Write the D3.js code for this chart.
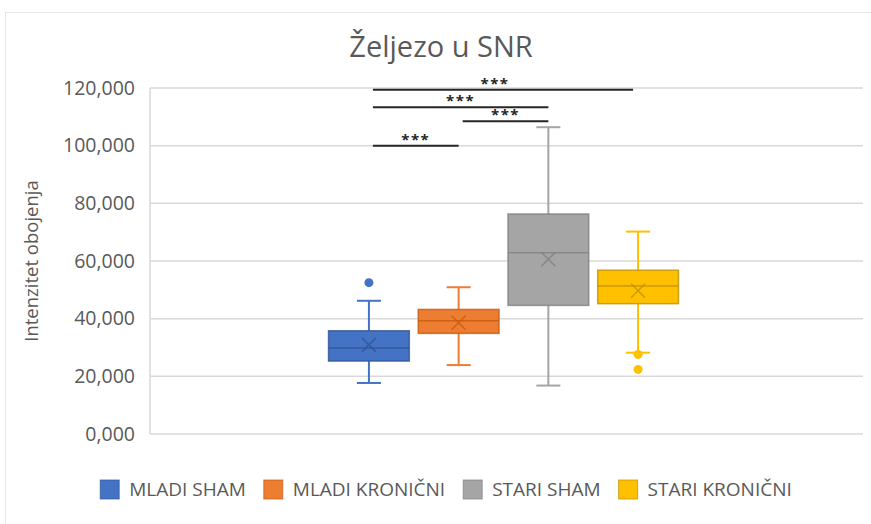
<!DOCTYPE html>
<html><head><meta charset="utf-8">
<script src="https://cdn.jsdelivr.net/npm/d3@7"></script>
<style>
html,body{margin:0;padding:0;background:#fff;}
svg{display:block;}
text{font-family:"Open Sans",sans-serif;}
</style></head>
<body>
<svg id="c" width="871" height="524"></svg>
<script>
// ---- data ----
const series = ["MLADI SHAM", "MLADI KRONIČNI", "STARI SHAM", "STARI KRONIČNI"];
const mins    = [17.7, 23.9, 16.8, 28.2];
const q1s     = [25.3, 34.9, 44.6, 45.2];
const medians = [29.8, 39.3, 62.9, 51.3];
const q3s     = [35.8, 43.2, 76.3, 56.8];
const maxs    = [46.2, 50.9, 106.4, 70.2];
const means   = [30.9, 38.6, 60.6, 49.7];
const outliers = [[52.5], [], [], [27.6, 22.4]];
const yTicks = [0, 20, 40, 60, 80, 100, 120];
const sigPairs  = [[0, 3], [0, 2], [1, 2], [0, 1]];
const sigLevels = [119.4, 113.3, 108.5, 100.0];
const sigLabels = ["***", "***", "***", "***"];

const fills   = ["#4472C4", "#ED7D31", "#A5A5A5", "#FFC000"];
const darks   = ["#2F5597", "#C55A11", "#7F7F7F", "#BF9000"];

(function () {
const svg = d3.select("#c");
const pLeft = 150, pRight = 863, pTop = 88, pBottom = 434;

svg.append("rect").attr("x", 5.5).attr("y", 12.5).attr("width", 900).attr("height", 600)
  .attr("fill", "#fff").attr("stroke", "#e6e6e6");

const loc = d3.formatLocale({decimal: ",", thousands: ".", grouping: [3], currency: ["", ""]});
const fmt = loc.format(".3f");

const y = d3.scaleLinear().domain([0, 120]).range([pBottom, pTop]);
const x0 = d3.scaleBand().domain(["g"]).range([pLeft, pRight - 6]).paddingOuter(0.485);
const x1 = d3.scaleBand().domain(series).range([x0("g"), x0("g") + x0.bandwidth()]).paddingInner(0.1).paddingOuter(0.05);

svg.append("g").selectAll("line").data(yTicks).join("line")
  .attr("x1", pLeft).attr("x2", pRight)
  .attr("y1", d => y(d)).attr("y2", d => y(d))
  .attr("stroke", "#d9d9d9").attr("stroke-width", 1.5);
svg.append("line").attr("x1", pLeft).attr("x2", pLeft).attr("y1", pTop).attr("y2", pBottom)
  .attr("stroke", "#d9d9d9").attr("stroke-width", 1.5);

const ax = svg.append("g").attr("transform", `translate(${pLeft},0)`)
  .call(d3.axisLeft(y).tickValues(yTicks).tickFormat(fmt).tickSize(0).tickPadding(15));
ax.select(".domain").remove();
ax.selectAll("text").attr("font-size", 19.5).attr("fill", "#595959").style("font-family", "'Open Sans',sans-serif");

svg.append("text").attr("transform", `translate(38,261) rotate(-90)`)
  .attr("text-anchor", "middle").attr("font-size", 18.5).attr("fill", "#595959")
  .text("Intenzitet obojenja");

svg.append("text").attr("x", 441).attr("y", 57).attr("text-anchor", "middle")
  .attr("font-size", 29).attr("fill", "#595959").text("Željezo u SNR");

const capW = 24;
series.forEach((s, i) => {
  const bx = x1(s), bw = x1.bandwidth(), cx = bx + bw / 2;
  const g = svg.append("g");
  g.append("line").attr("x1", cx).attr("x2", cx).attr("y1", y(q3s[i])).attr("y2", y(maxs[i]))
    .attr("stroke", fills[i]).attr("stroke-width", 2);
  g.append("line").attr("x1", cx).attr("x2", cx).attr("y1", y(q1s[i])).attr("y2", y(mins[i]))
    .attr("stroke", fills[i]).attr("stroke-width", 2);
  [maxs[i], mins[i]].forEach(v => g.append("line").attr("x1", cx - capW / 2).attr("x2", cx + capW / 2)
    .attr("y1", y(v)).attr("y2", y(v)).attr("stroke", fills[i]).attr("stroke-width", 2));
  g.append("rect").attr("x", bx).attr("y", y(q3s[i])).attr("width", bw).attr("height", y(q1s[i]) - y(q3s[i]))
    .attr("fill", fills[i]).attr("stroke", darks[i]).attr("stroke-width", 1.5).attr("stroke-opacity", 0.8);
  g.append("line").attr("x1", bx).attr("x2", bx + bw).attr("y1", y(medians[i])).attr("y2", y(medians[i]))
    .attr("stroke", darks[i]).attr("stroke-width", 1.5).attr("stroke-opacity", 0.8);
  const my = y(means[i]), m = 7;
  g.append("path").attr("d", `M${cx - m},${my - m}L${cx + m},${my + m}M${cx - m},${my + m}L${cx + m},${my - m}`)
    .attr("stroke", darks[i]).attr("stroke-width", 1.5).attr("stroke-opacity", 0.8);
  g.selectAll("circle").data(outliers[i]).join("circle")
    .attr("cx", cx).attr("cy", d => y(d)).attr("r", 4.5).attr("fill", fills[i]);
});

sigPairs.forEach((p, k) => {
  const xa = x1(series[p[0]]) + x1.bandwidth() / 2 + 4;
  const xb = x1(series[p[1]]) + x1.bandwidth() / 2 - (p[1] === 3 ? 5 : 0);
  const yy = y(sigLevels[k]);
  svg.append("line").attr("x1", xa).attr("x2", xb).attr("y1", yy).attr("y2", yy)
    .attr("stroke", "#262626").attr("stroke-width", 2);
  svg.append("text").attr("x", (xa + xb) / 2 - (k === 0 ? 8 : 0)).attr("y", yy - 1)
    .attr("text-anchor", "middle").attr("font-size", 15).attr("font-weight", "bold")
    .attr("letter-spacing", 1.5).attr("fill", "#262626")
    .text(sigLabels[k]);
});

const lg = svg.append("g");
let lx = 0;
series.forEach((s, i) => {
  const it = lg.append("g").attr("transform", `translate(${lx},0)`);
  it.append("rect").attr("x", 0).attr("y", -9).attr("width", 19).attr("height", 19)
    .attr("fill", fills[i]).attr("stroke", darks[i]).attr("stroke-width", 1).attr("stroke-opacity", 0.7);
  const t = it.append("text").attr("x", 29).attr("y", 0).attr("dy", "0.35em")
    .attr("font-size", 19).attr("fill", "#595959").text(s);
  lx += 29 + t.node().getComputedTextLength() + 18;
});
const lw = lx - 18;
lg.attr("transform", `translate(${446 - lw / 2},489)`);
})();
</script>
</body></html>
